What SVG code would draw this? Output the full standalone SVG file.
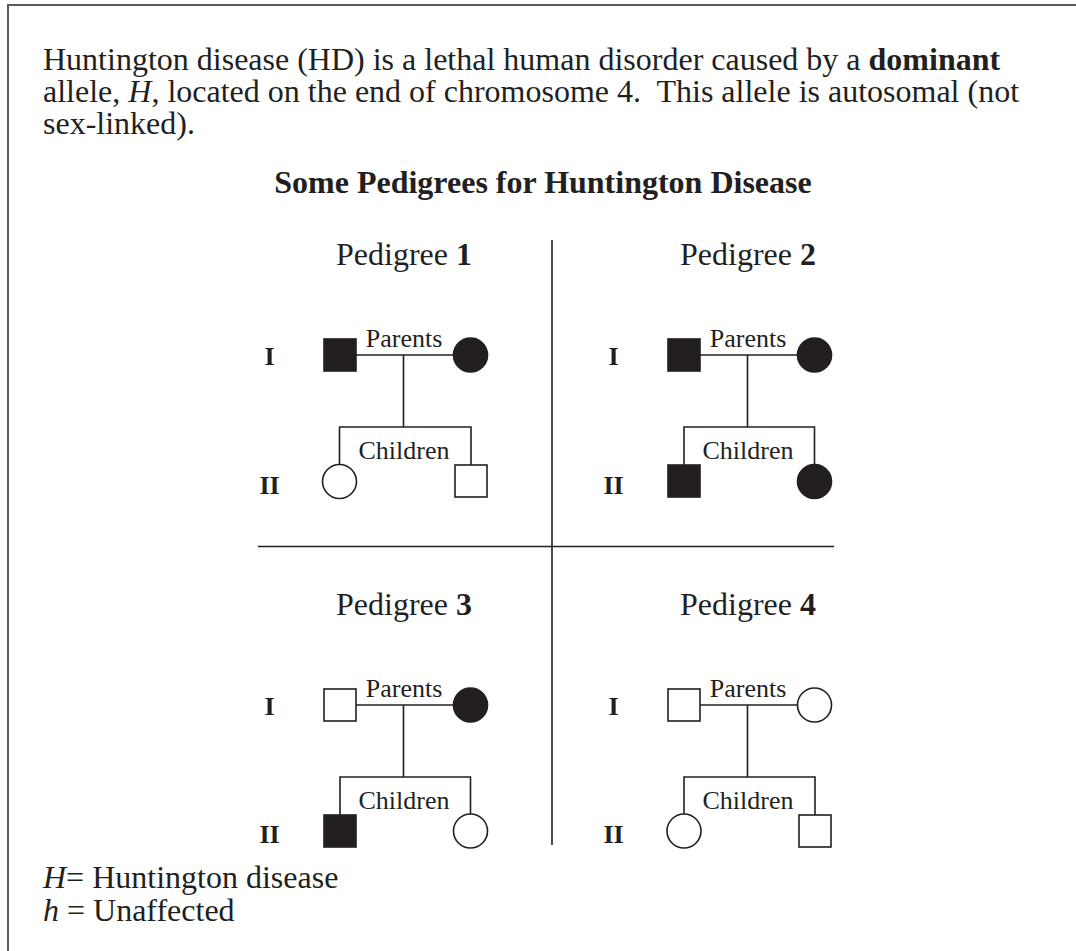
<svg xmlns="http://www.w3.org/2000/svg" width="1076" height="951" viewBox="0 0 1076 951">
<style>
.t{font-family:"Liberation Serif","Times New Roman",serif;fill:#231f20}
.body{font-size:32px}
.lbl{font-size:26px;text-anchor:middle}
.gen{font-size:26px;font-weight:bold;text-anchor:middle}
.ln{stroke:#231f20;stroke-width:1.6;fill:none}
.aff{fill:#231f20;stroke:#231f20;stroke-width:1.6}
.un{fill:#fff;stroke:#231f20;stroke-width:1.6}
.frame{stroke:#58595b;stroke-width:2;fill:none}
</style>
<rect width="1076" height="951" fill="#fff"/>
<path class="frame" d="M8 951V5H1076"/>
<g id="intro" class="t body">
<text x="43" y="70">Huntington disease (HD) is a lethal human disorder caused by a <tspan font-weight="bold">dominant</tspan></text>
<text x="43" y="102" xml:space="preserve">allele, <tspan font-style="italic">H</tspan>, located on the end of chromosome 4.  This allele is autosomal (not</text>
<text x="43" y="134">sex-linked).</text>
</g>
<text id="title" class="t body" x="543" y="193" text-anchor="middle" font-weight="bold">Some Pedigrees for Huntington Disease</text>
<g id="dividers" class="ln"><path d="M258 546.5H834M552 240V845"/></g>
<g id="pedigree-titles" class="t body" text-anchor="middle">
<text x="404" y="265">Pedigree <tspan font-weight="bold">1</tspan></text>
<text x="748" y="265">Pedigree <tspan font-weight="bold">2</tspan></text>
<text x="404" y="615">Pedigree <tspan font-weight="bold">3</tspan></text>
<text x="748" y="615">Pedigree <tspan font-weight="bold">4</tspan></text>
</g>
<g id="connectors" class="ln">
<path d="M356 355H453.5M403.5 355V427M339.5 464.5V427H471V465"/>
<path d="M700 355H797.5M747.5 355V427M684 465V427H814.5V464.5"/>
<path d="M356 705H453.5M403.5 705V777M340 815V777H470.5V814"/>
<path d="M700 705H797.5M747.5 705V777M684 814V777H815V815"/>
</g>
<g id="p1" class="t">
<text class="gen" x="269.5" y="365">I</text>
<text class="gen" x="269.5" y="493.5">II</text>
<text class="lbl" x="404" y="347">Parents</text>
<text class="lbl" x="404" y="458.5">Children</text>
<g id="p1-father"><rect class="aff" x="324" y="339" width="32" height="32"/></g>
<g id="p1-mother"><circle class="aff" cx="470.5" cy="355" r="17"/></g>
<g id="p1-child1"><circle class="un" cx="339.5" cy="481.5" r="17"/></g>
<g id="p1-child2"><rect class="un" x="455" y="465" width="32" height="32"/></g>
</g>
<g id="p2" class="t">
<text class="gen" x="613.5" y="365">I</text>
<text class="gen" x="613.5" y="493.5">II</text>
<text class="lbl" x="748" y="347">Parents</text>
<text class="lbl" x="748" y="458.5">Children</text>
<g id="p2-father"><rect class="aff" x="668" y="339" width="32" height="32"/></g>
<g id="p2-mother"><circle class="aff" cx="814.5" cy="355" r="17"/></g>
<g id="p2-child1"><rect class="aff" x="668" y="465" width="32" height="32"/></g>
<g id="p2-child2"><circle class="aff" cx="814.5" cy="481.5" r="17"/></g>
</g>
<g id="p3" class="t">
<text class="gen" x="269.5" y="715">I</text>
<text class="gen" x="269.5" y="843">II</text>
<text class="lbl" x="404" y="697">Parents</text>
<text class="lbl" x="404" y="808.5">Children</text>
<g id="p3-father"><rect class="un" x="324" y="689" width="32" height="32"/></g>
<g id="p3-mother"><circle class="aff" cx="470.5" cy="705" r="17"/></g>
<g id="p3-child1"><rect class="aff" x="324" y="815" width="32" height="32"/></g>
<g id="p3-child2"><circle class="un" cx="470.5" cy="831" r="17"/></g>
</g>
<g id="p4" class="t">
<text class="gen" x="613.5" y="715">I</text>
<text class="gen" x="613.5" y="843">II</text>
<text class="lbl" x="748" y="697">Parents</text>
<text class="lbl" x="748" y="808.5">Children</text>
<g id="p4-father"><rect class="un" x="668" y="689" width="32" height="32"/></g>
<g id="p4-mother"><circle class="un" cx="814.5" cy="705" r="17"/></g>
<g id="p4-child1"><circle class="un" cx="684" cy="831" r="17"/></g>
<g id="p4-child2"><rect class="un" x="799" y="815" width="32" height="32"/></g>
</g>
<g id="legend" class="t body">
<text x="43" y="888"><tspan font-style="italic">H</tspan>= Huntington disease</text>
<text x="43" y="921"><tspan font-style="italic">h</tspan> = Unaffected</text>
</g>
</svg>
